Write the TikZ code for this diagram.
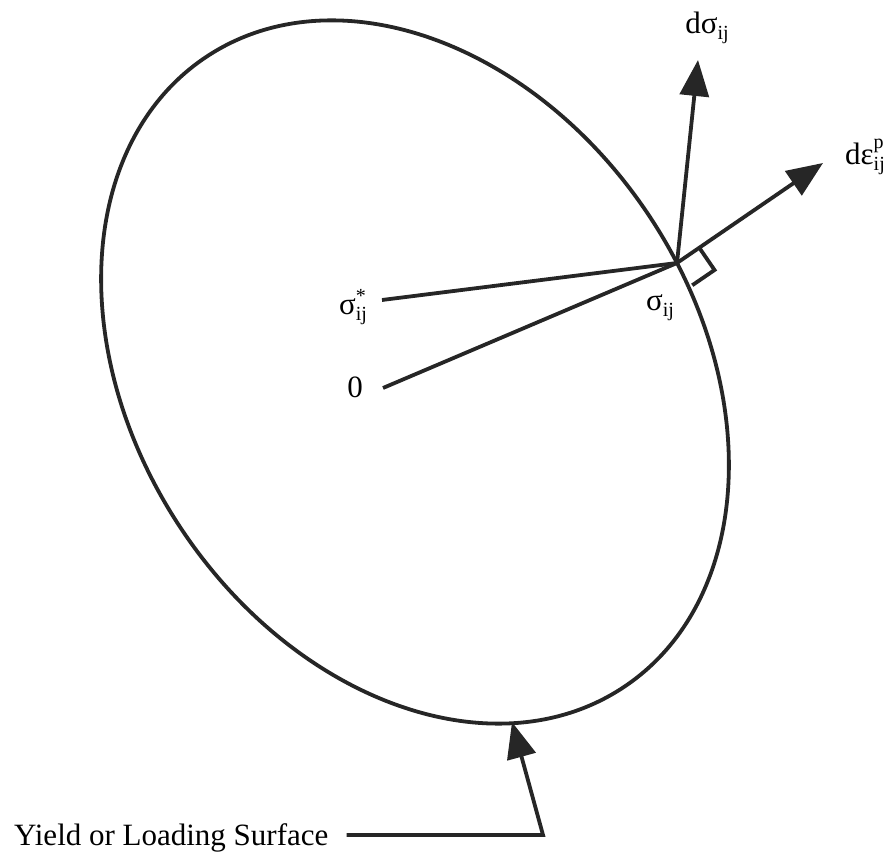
\documentclass[tikz,border=0pt]{standalone}
\usepackage{fontspec}
\setmainfont{Liberation Serif}
\usetikzlibrary{arrows.meta,calc}
\newcommand{\supsubx}[2]{{\fontsize{20}{20}\selectfont\raisebox{-6pt}{\shortstack[l]{#1\\[1pt]#2}}}}
\newcommand{\subx}[1]{{\fontsize{20}{20}\selectfont\raisebox{-6pt}{#1}}}
\begin{document}
\begin{tikzpicture}[x=1pt,y=1pt,
  ink/.style={draw=black!85,line width=3.8pt},
  bigarrow/.style={ink,-{Triangle[length=36pt,width=29pt]}},
  lbl/.style={inner sep=0pt,font=\fontsize{31}{36}\selectfont}]
\useasboundingbox (0,0) rectangle (896,856);
% yield surface
\draw[ink,rotate around={-56.6:(415,484)}] (415,484) ellipse [x radius=378pt, y radius=281.5pt];
% points
\coordinate (P) at (677,593);
\coordinate (dS) at (698,796);
\coordinate (dE) at (823,693);
\coordinate (S) at (382,556);
\coordinate (O) at (383,468);
\coordinate (C) at (543,21);
\coordinate (T) at (512,134);
% labels
\node[lbl] (ldS) at (707,828) {dσ\subx{ij}};
\node[lbl,anchor=west] (ldE) at (845,699) {dε\supsubx{p}{ij}};
\node[lbl] (lSs) at (353,549) {σ\supsubx{*}{ij}};
\node[lbl] (lO) at (355,469) {0};
\node[lbl] (lS) at (660,548) {σ\subx{ij}};
\node[lbl,anchor=base west] (lY) at (14,11) {Yield or Loading Surface};
% lines
\draw[ink] (S) -- (P);
\draw[ink] (O) -- (P);
\draw[bigarrow] (P) -- (dS);
\draw[bigarrow] (P) -- (dE);
% right angle mark
\coordinate (A) at ($(P)!27pt!(dE)$);
\coordinate (B) at ($(P)!27pt!-90:(dE)$);
\draw[ink,line join=miter] (A) -- ($(A)+(B)-(P)$) -- (B);
% leader arrow
\draw[bigarrow] (lY.east |- C) ++(18,0) coordinate (L) -- (C) -- (T);
\end{tikzpicture}
\end{document}
